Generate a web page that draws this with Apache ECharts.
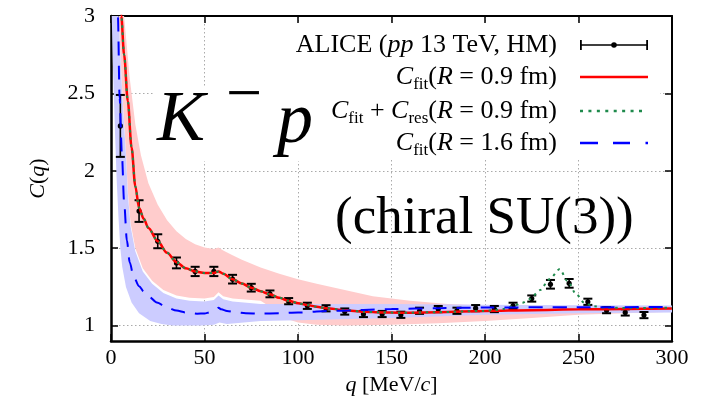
<!DOCTYPE html>
<html><head><meta charset="utf-8">
<script src="https://cdn.jsdelivr.net/npm/echarts@6/dist/echarts.min.js"></script>
<style>html,body{margin:0;padding:0;background:#fff}#c{width:704px;height:401px}</style>
</head><body><div id="c"></div>
<script>
// ---------- data ----------
const qData = [5,15,25,35,45,55,65,75,85,95,105,115,125,135,145,155,165,175,185,195,205,215,225,235,245,255,265,275,285];
const cData = [2.29,1.74,1.545,1.405,1.35,1.35,1.30,1.245,1.205,1.158,1.128,1.112,1.091,1.075,1.075,1.07,1.096,1.107,1.096,1.113,1.107,1.128,1.175,1.267,1.273,1.154,1.10,1.085,1.068];
const eData = [0.2,0.07,0.045,0.035,0.03,0.03,0.028,0.025,0.022,0.02,0.02,0.02,0.02,0.02,0.02,0.02,0.02,0.02,0.02,0.02,0.02,0.02,0.02,0.028,0.028,0.02,0.02,0.02,0.02];

const fitR09 = [[4.6,3.3],[5.5,3.0],[7,2.75],[9,2.45],[11,2.15],[13,1.9],[15,1.76],[17.5,1.69],[20,1.63],[25,1.545],[30,1.47],[35,1.41],[40,1.37],[45,1.35],[50,1.34],[55,1.34],[57.5,1.35],[60,1.335],[65,1.30],[70,1.272],[75,1.245],[80,1.222],[85,1.202],[90,1.18],[95,1.16],[100,1.145],[105,1.133],[110,1.122],[115,1.113],[125,1.10],[135,1.09],[145,1.085],[155,1.083],[175,1.087],[200,1.095],[225,1.10],[250,1.105],[275,1.108],[300,1.11]];
const fitResR09 = [[4.6,3.3],[5.5,3.0],[7,2.75],[9,2.45],[11,2.15],[13,1.9],[15,1.76],[17.5,1.69],[20,1.63],[25,1.545],[30,1.47],[35,1.41],[40,1.37],[45,1.35],[50,1.34],[55,1.34],[57.5,1.35],[60,1.335],[65,1.30],[70,1.272],[75,1.245],[80,1.222],[85,1.202],[90,1.18],[95,1.16],[100,1.145],[105,1.133],[110,1.122],[115,1.113],[125,1.10],[135,1.09],[145,1.085],[155,1.083],[175,1.087],[200,1.095],[205,1.10],[210,1.108],[215,1.125],[220,1.148],[224,1.172],[229.5,1.23],[234.5,1.30],[240,1.365],[244,1.29],[249,1.20],[253,1.148],[258,1.125],[265,1.115],[280,1.114],[300,1.116]];
const fitR16 = [[3.3,3.3],[3.7,3.0],[4.6,2.47],[5.9,2.09],[7,1.8],[8.5,1.55],[10,1.41],[12,1.32],[15,1.255],[17.5,1.22],[20,1.19],[24.5,1.15],[30,1.117],[35,1.097],[40,1.085],[46,1.077],[50,1.079],[53,1.086],[56,1.102],[57.5,1.115],[59,1.105],[62,1.095],[67,1.086],[72,1.08],[80,1.078],[90,1.08],[100,1.085],[120,1.096],[150,1.107],[175,1.113],[200,1.117],[250,1.119],[300,1.12]];

const bandR09Upper = [[5,3.4],[7,3.0],[10,2.6],[13,2.3],[16,2.1],[20,1.92],[25,1.78],[30,1.68],[35,1.61],[40,1.56],[45,1.525],[50,1.505],[55,1.495],[57.5,1.505],[60,1.485],[65,1.455],[70,1.425],[80,1.375],[90,1.335],[100,1.30],[110,1.27],[125,1.23],[140,1.19],[160,1.16],[180,1.14],[200,1.13],[250,1.12],[300,1.115]];
const bandR09Lower = [[3.8,3.4],[4,3.02],[6,2.52],[8,2.12],[9,1.87],[10.5,1.66],[13,1.50],[17,1.37],[22,1.29],[28,1.23],[35,1.195],[42,1.18],[50,1.175],[55,1.185],[57.5,1.215],[60,1.19],[65,1.175],[80,1.16],[88,1.10],[95,1.04],[100,1.02],[110,1.005],[125,1.0],[150,1.005],[175,1.015],[200,1.03],[225,1.05],[250,1.07],[275,1.08],[300,1.09]];
const bandR16Upper = [[0,3.4],[3.8,3.4],[4,3.0],[6,2.5],[8,2.1],[9,1.85],[10.5,1.64],[13,1.48],[17,1.35],[22,1.27],[28,1.21],[35,1.175],[42,1.16],[50,1.155],[55,1.165],[57.5,1.195],[60,1.17],[65,1.155],[80,1.14],[100,1.14],[150,1.14],[200,1.135],[250,1.132],[300,1.13]];
const bandR16Lower = [[0,3.2],[1,2.7],[2,2.3],[3,1.95],[4,1.7],[5,1.5],[6,1.38],[8,1.25],[11,1.15],[15,1.08],[21,1.03],[27,1.01],[33,1.0],[48,1.0],[55,1.005],[58,1.02],[62,1.01],[80,1.03],[100,1.035],[150,1.05],[200,1.07],[250,1.08],[300,1.085]];

const yTicks = [1,1.5,2,2.5,3];

const nameData = 'ALICE (pp 13 TeV, HM)';
const nameFit09 = 'Cfit(R = 0.9 fm)';
const nameRes09 = 'Cfit + Cres(R = 0.9 fm)';
const nameFit16 = 'Cfit(R = 1.6 fm)';
const legendRich = {};
legendRich[nameData] = 'ALICE ({i|pp} 13 TeV, HM)';
legendRich[nameFit09] = '{i|C}{s|fit}({i|R} = 0.9 fm)';
legendRich[nameRes09] = '{i|C}{s|fit} + {i|C}{s|res}({i|R} = 0.9 fm)';
legendRich[nameFit16] = '{i|C}{s|fit}({i|R} = 1.6 fm)';

// ---------- chart ----------
const F = 'Liberation Serif';
const chart = echarts.init(document.getElementById('c'), null, {renderer:'canvas'});

function bandSeries(upper, lower, fill){
  return {
    type:'custom', silent:true, clip:true, data: upper,
    renderItem: function(params, api){
      if (params.dataIndex !== 0) return null;
      const pts = upper.map(p => api.coord(p)).concat(lower.slice().reverse().map(p => api.coord(p)));
      return {type:'polygon', shape:{points:pts}, style:{fill:fill}};
    }
  };
}

const errIcon = 'path://M0,4.2H68V5.8H0Z M0,0H1.8V10H0Z M66.2,0H68V10H66.2Z M31.2,5A2.8,2.8 0 1 1 36.8,5A2.8,2.8 0 1 1 31.2,5Z';
const solidIcon = 'path://M0,0H68V2.6H0Z';
const dotIcon = 'path://M0,0H3V2.4H0Z M8.4,0H11.4V2.4H8.4Z M16.8,0H19.8V2.4H16.8Z M25.2,0H28.2V2.4H25.2Z M33.6,0H36.6V2.4H33.6Z M42,0H45V2.4H42Z M50.4,0H53.4V2.4H50.4Z M58.8,0H61.8V2.4H58.8Z';
const dashIcon = 'path://M0,0H18V2.4H0Z M33,0H50V2.4H33Z M65.5,0H68V2.4H65.5Z';

function legendFor(name, centerY, icon, w, rightPos){
  return {
    data:[{name:name, icon:icon}], right:rightPos, top:centerY-16, align:'right', orient:'horizontal',
    itemWidth:w, itemHeight:12, padding:0, selectedMode:false,
    formatter: n => legendRich[n],
    textStyle:{fontFamily:F, fontSize:26, color:'#000', lineHeight:32, padding:[0,18,0,0],
      rich:{
        i:{fontFamily:F, fontSize:26, fontStyle:'italic', color:'#000', lineHeight:32},
        s:{fontFamily:F, fontSize:17, color:'#000', lineHeight:17, verticalAlign:'bottom'}
      }}
  };
}

const axisLabelStyle = {color:'#000', fontFamily:F, fontSize:22};
const tickStyle = {inside:true, length:7, lineStyle:{color:'#000', width:1.5}};
const split = {show:true, lineStyle:{color:'#aaaaaa', type:[1.5,2.5], width:1}};
const nameStyle = {color:'#000', fontFamily:F, fontSize:22, rich:{i:{fontFamily:F, fontSize:22, fontStyle:'italic', color:'#000'}}};

const option = {
  animation:false,
  backgroundColor:'#fff',
  grid:{left:111, right:32, top:16, bottom:56, show:false},
  xAxis:[
    {type:'value', min:0, max:300, interval:50, position:'bottom',
     axisLine:{show:true, onZero:false, lineStyle:{color:'#000', width:2.5}},
     axisTick:tickStyle, axisLabel:Object.assign({margin:6}, axisLabelStyle),
     splitLine:split,
     name:'{i|q} [MeV/{i|c}]', nameLocation:'middle', nameGap:28, nameTextStyle:nameStyle},
    {type:'value', min:0, max:300, interval:50, position:'top',
     axisLine:{show:true, onZero:false, lineStyle:{color:'#000', width:2}},
     axisTick:tickStyle, axisLabel:{show:false}, splitLine:{show:false}}
  ],
  yAxis:[
    {type:'value', min:0.9, max:3, position:'left',
     axisLine:{show:true, onZero:false, lineStyle:{color:'#000', width:2.5}},
     axisTick:Object.assign({customValues:yTicks}, tickStyle),
     axisLabel:Object.assign({margin:16, customValues:yTicks}, axisLabelStyle),
     splitLine:split,
     name:'{i|C}({i|q})', nameLocation:'middle', nameGap:62, nameTextStyle:nameStyle},
    {type:'value', min:0.9, max:3, position:'right',
     axisLine:{show:true, onZero:false, lineStyle:{color:'#000', width:2}},
     axisTick:Object.assign({customValues:yTicks}, tickStyle),
     axisLabel:{show:false, customValues:yTicks}, splitLine:{show:false}}
  ],
  legend:[
    legendFor(nameData, 45, errIcon, 68, 56),
    legendFor(nameFit09, 77, solidIcon, 68, 56),
    legendFor(nameRes09, 111, dotIcon, 62, 62),
    legendFor(nameFit16, 143, dashIcon, 68, 56)
  ],
  graphic:[
    {type:'rect', z:1, silent:true, shape:{x:285, y:24, width:375, height:134}, style:{fill:'#fff'}},
    {type:'rect', z:10, silent:true, shape:{x:155, y:86, width:157, height:75}, style:{fill:'#fff'}},
    {type:'text', z:11, silent:true, x:157, y:120.7, style:{text:'K', fontFamily:F, fontSize:72, fontStyle:'italic', fill:'#000', align:'left', verticalAlign:'middle'}},
    {type:'text', z:11, silent:true, x:226, y:97.5, style:{text:'\u2212', fontFamily:F, fontSize:64, fill:'#000', align:'left', verticalAlign:'middle'}},
    {type:'text', z:11, silent:true, x:277, y:122.7, style:{text:'p', fontFamily:F, fontSize:72, fontStyle:'italic', fill:'#000', align:'left', verticalAlign:'middle'}},
    {type:'text', z:3, silent:true, x:335, y:219, style:{text:'(chiral SU(3))', fontFamily:F, fontSize:53, fill:'#000', align:'left', verticalAlign:'middle'}}
  ],
  series:[
    bandSeries(bandR09Upper, bandR09Lower, '#ffcccc'),
    bandSeries(bandR16Upper, bandR16Lower, '#ccccff'),
    {name:nameData, type:'custom', clip:true, itemStyle:{color:'#000'},
     data:qData.map((q,i)=>[q,cData[i],eData[i]]), encode:{x:0,y:1},
     renderItem:function(params, api){
       const q = api.value(0), c = api.value(1), e = api.value(2);
       const p = api.coord([q,c]), t = api.coord([q,c+e]), b = api.coord([q,c-e]);
       const hw = 4.5;
       const st = {stroke:'#000', lineWidth:2};
       return {type:'group', children:[
         {type:'line', shape:{x1:p[0], y1:t[1], x2:p[0], y2:b[1]}, style:{stroke:'#000', lineWidth:1.6}},
         {type:'line', shape:{x1:p[0]-hw, y1:t[1], x2:p[0]+hw, y2:t[1]}, style:st},
         {type:'line', shape:{x1:p[0]-hw, y1:b[1], x2:p[0]+hw, y2:b[1]}, style:st},
         {type:'circle', shape:{cx:p[0], cy:p[1], r:2.6}, style:{fill:'#000'}}
       ]};
     }},
    {name:nameFit09, type:'line', data:fitR09, symbol:'none', showSymbol:false, smooth:0.3, smoothMonotone:'x', clip:true,
     itemStyle:{color:'#ff0000'}, lineStyle:{color:'#ff0000', width:2.5}},
    {name:nameRes09, type:'line', data:fitResR09, symbol:'none', showSymbol:false, smooth:0.3, smoothMonotone:'x', clip:true,
     itemStyle:{color:'#1f8a4c'}, lineStyle:{color:'#1f8a4c', width:2, type:[2.5,4.5]}},
    {name:nameFit16, type:'line', data:fitR16, symbol:'none', showSymbol:false, smooth:0.3, smoothMonotone:'x', clip:true,
     itemStyle:{color:'#0000ff'}, lineStyle:{color:'#0000ff', width:2, type:[14,10]}}
  ]
};
chart.setOption(option);
</script>
</body></html>
